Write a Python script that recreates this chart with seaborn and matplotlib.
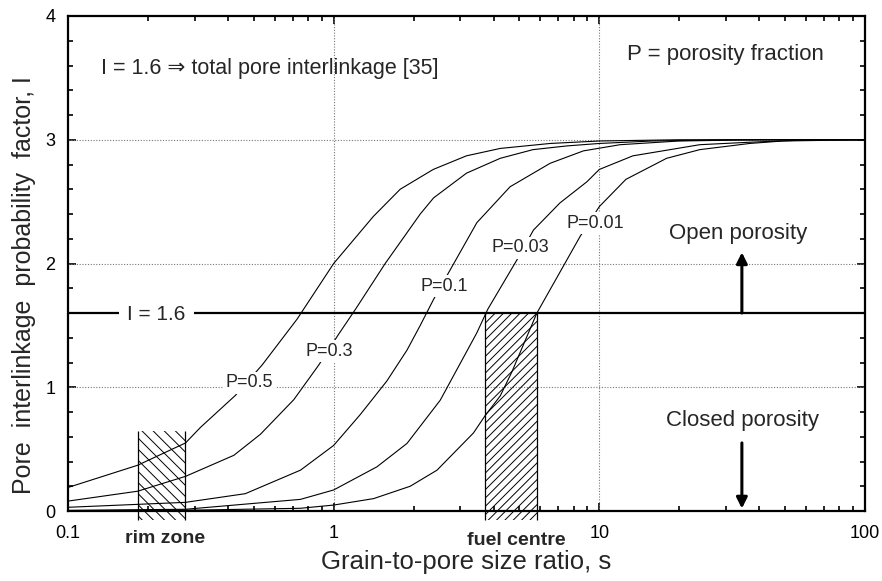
import numpy as np
import pandas as pd
import matplotlib
matplotlib.use("Agg")
import matplotlib.pyplot as plt
import seaborn as sns
from matplotlib.ticker import LogLocator, NullFormatter, MultipleLocator

# ---- data ----
s_p050 = [0.1, 0.183, 0.277, 0.315, 0.427, 0.538, 0.728, 1.0, 1.41, 1.78, 2.37, 3.16, 4.24, 6.53, 10, 20, 100]
I_p050 = [0.19, 0.37, 0.55, 0.675, 0.935, 1.18, 1.55, 2.0, 2.38, 2.6, 2.76, 2.87, 2.93, 2.97, 2.99, 3.0, 3.0]

s_p030 = [0.1, 0.183, 0.277, 0.421, 0.530, 0.708, 0.879, 1.045, 1.208, 1.563, 2.118, 2.377, 3.162, 4.236, 5.623, 7.534, 10, 15.85, 31.6, 100]
I_p030 = [0.08, 0.16, 0.28, 0.45, 0.62, 0.90, 1.18, 1.43, 1.63, 2.0, 2.40, 2.53, 2.73, 2.85, 2.92, 2.95, 2.97, 2.99, 3.0, 3.0]

s_p010 = [0.1, 0.277, 0.465, 0.75, 1.0, 1.26, 1.585, 1.888, 2.118, 2.377, 2.748, 3.459, 4.613, 6.531, 8.71, 11.97, 19.95, 39.8, 100]
I_p010 = [0.03, 0.07, 0.14, 0.33, 0.53, 0.78, 1.05, 1.30, 1.50, 1.71, 1.95, 2.33, 2.62, 2.81, 2.91, 2.96, 2.99, 3.0, 3.0]

s_p003 = [0.1, 0.277, 0.75, 1.0, 1.455, 1.888, 2.518, 3.459, 3.802, 4.898, 5.649, 7.112, 8.974, 10, 13.37, 23.88, 36.81, 63.1, 100]
I_p003 = [0.005, 0.014, 0.094, 0.17, 0.357, 0.546, 0.895, 1.44, 1.63, 2.03, 2.27, 2.49, 2.66, 2.76, 2.87, 2.96, 2.98, 3.0, 3.0]

s_p001 = [0.1, 0.316, 0.75, 1.0, 1.413, 1.941, 2.449, 3.357, 3.715, 4.236, 4.677, 5.821, 8.472, 10, 12.59, 17.91, 23.88, 36.81, 48.98, 100]
I_p001 = [0.002, 0.008, 0.022, 0.048, 0.10, 0.20, 0.33, 0.63, 0.77, 0.93, 1.12, 1.60, 2.22, 2.46, 2.68, 2.85, 2.92, 2.97, 2.99, 3.0]

porosity_labels = ["P=0.5", "P=0.3", "P=0.1", "P=0.03", "P=0.01"]
label_s = [0.482, 0.963, 2.61, 5.03, 9.63]
label_I = [1.0, 1.255, 1.78, 2.09, 2.29]

I_threshold = 1.6
rim_zone = [0.183, 0.276]
rim_top = 0.65
fuel_centre = [3.72, 5.82]

x_ticks = [0.1, 1, 10, 100]
x_ticklabels = ["0.1", "1", "10", "100"]
y_ticks = [0, 1, 2, 3, 4]

# ---- build long table ----
frames = []
for lab, s, I in zip(porosity_labels,
                     [s_p050, s_p030, s_p010, s_p003, s_p001],
                     [I_p050, I_p030, I_p010, I_p003, I_p001]):
    frames.append(pd.DataFrame({"s": s, "I": I, "P": lab}))
df = pd.concat(frames, ignore_index=True)

sns.set_theme(style="ticks")
plt.rcParams["font.family"] = ["Liberation Sans", "DejaVu Sans"]
plt.rcParams["hatch.linewidth"] = 0.7
plt.rcParams["hatch.color"] = "black"

fig = plt.figure(figsize=(8.82, 5.81), dpi=100)
ax = fig.add_axes([68 / 882, 70 / 581, 797 / 882, 495 / 581])
ax.set_xscale("log")

sns.lineplot(data=df, x="s", y="I", hue="P", palette=["black"] * 5,
             estimator=None, sort=False, legend=False, lw=0.8, ax=ax, zorder=3)

ax.set_xlim(0.1, 100)
ax.set_ylim(0, 4)

# grid
for gx in [1, 10]:
    ax.axvline(gx, color="#777777", lw=0.8, ls=(0, (1, 1.5)), zorder=1)
for gy in [1, 2, 3]:
    ax.axhline(gy, color="#777777", lw=0.8, ls=(0, (1, 1.5)), zorder=1)

# threshold line
ax.axhline(I_threshold, color="black", lw=1.6, zorder=4)
ax.text(0.215, 1.54, "I = 1.6", ha="center", va="baseline", fontsize=15,
        zorder=6, bbox=dict(fc="white", ec="none", pad=6))

# hatched zones
fb = ax.fill_between(rim_zone, -0.07, rim_top, facecolor="none", edgecolor="black",
                     hatch="\\\\\\", linewidth=0, zorder=2)
fb.set_clip_on(False)
ax.vlines(rim_zone, -0.07, rim_top, color="black", lw=0.9, clip_on=False, zorder=3)
fb2 = ax.fill_between(fuel_centre, -0.07, I_threshold, facecolor="none", edgecolor="black",
                      hatch="////", linewidth=0, zorder=2)
fb2.set_clip_on(False)
ax.vlines(fuel_centre, -0.07, I_threshold, color="black", lw=0.9, clip_on=False, zorder=3)

ax.text(0.232, -0.258, "rim zone", ha="center", va="baseline", fontsize=14,
        fontweight="bold")
ax.text(4.89, -0.274, "fuel centre", ha="center", va="baseline", fontsize=14,
        fontweight="bold")

# curve labels
for lab, xs, ys in zip(porosity_labels, label_s, label_I):
    ax.text(xs, ys, lab, ha="center", va="baseline", fontsize=13, zorder=5,
            bbox=dict(fc="white", ec="none", pad=2))

# annotations
ax.text(0.1327, 3.535, "I = 1.6 \u21d2 total pore interlinkage [35]", ha="left",
        va="baseline", fontsize=15.5)
ax.text(12.7, 3.643, "P = porosity fraction", ha="left", va="baseline", fontsize=16)
ax.text(33.2, 2.20, "Open porosity", ha="center", va="baseline", fontsize=16)
ax.text(34.5, 0.685, "Closed porosity", ha="center", va="baseline", fontsize=16)
ax.annotate("", xy=(34.4, 2.09), xytext=(34.4, 1.6),
            arrowprops=dict(arrowstyle="-|>", color="black", lw=2.2, mutation_scale=16,
                            shrinkA=0, shrinkB=0))
ax.annotate("", xy=(34.4, 0.02), xytext=(34.4, 0.55),
            arrowprops=dict(arrowstyle="-|>", color="black", lw=2.2, mutation_scale=16,
                            shrinkA=0, shrinkB=0))

# axes styling
ax.set_xticks(x_ticks)
ax.set_xticklabels(x_ticklabels)
ax.xaxis.set_minor_locator(LogLocator(base=10, subs=np.arange(2, 10)))
ax.xaxis.set_minor_formatter(NullFormatter())
ax.set_yticks(y_ticks)
ax.yaxis.set_minor_locator(MultipleLocator(0.2))
ax.tick_params(which="both", direction="in", top=True, right=True, width=1.2, colors="black")
ax.tick_params(which="major", length=6)
ax.tick_params(which="minor", length=3.5)
ax.tick_params(axis="x", which="major", pad=10, labelsize=13)
ax.tick_params(axis="y", which="major", pad=9, labelsize=13)
for sp in ax.spines.values():
    sp.set_linewidth(1.6)
    sp.set_color("black")
    sp.set_visible(True)

ax.set_xlabel("Grain-to-pore size ratio, s", fontsize=18.5)
ax.set_ylabel("Pore  interlinkage  probability  factor, I", fontsize=18)
ax.xaxis.set_label_coords(0.5, -0.079)
ax.yaxis.set_label_coords(-0.040, 0.457)
ax.grid(False)

fig.savefig("out.png", dpi=100)
